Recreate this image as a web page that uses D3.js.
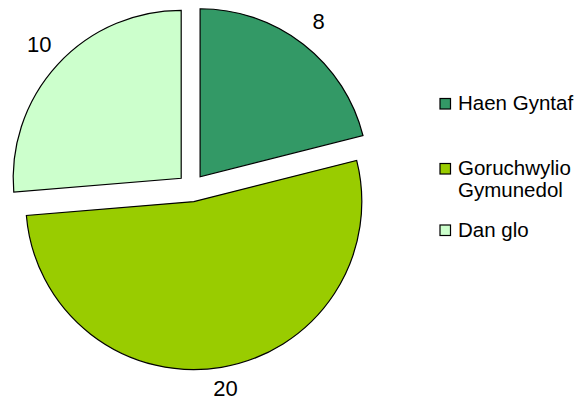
<!DOCTYPE html>
<html>
<head>
<meta charset="utf-8">
<script src="https://cdn.jsdelivr.net/npm/d3@7"></script>
<style>
  html, body { margin: 0; padding: 0; background: #fff; }
  svg { display: block; }
  text { font-family: "Liberation Sans", Arial, sans-serif; fill: #000; }
</style>
</head>
<body>
<svg id="chart" width="582" height="403"></svg>
<script>
const categories = ["Haen Gyntaf", "Goruchwylio Gymunedol", "Dan glo"];
const legendLines = [["Haen Gyntaf"], ["Goruchwylio", "Gymunedol"], ["Dan glo"]];
const values = [8, 20, 10];
const colors = ["#339966", "#99CC00", "#CCFFCC"];

const svg = d3.select("#chart");
const cx = 191.5, cy = 187.8, radius = 168, explode = 14, labelR = 207;

const pie = d3.pie().sort(null).value(d => d)(values);
const arc = d3.arc().innerRadius(0).outerRadius(radius);

const g = svg.append("g").attr("transform", `translate(${cx},${cy})`);

pie.forEach((p, i) => {
  const mid = (p.startAngle + p.endAngle) / 2;
  const dx = explode * Math.sin(mid), dy = -explode * Math.cos(mid);
  g.append("path")
    .attr("d", arc(p))
    .attr("transform", `translate(${dx},${dy})`)
    .attr("fill", colors[i])
    .attr("stroke", "#000")
    .attr("stroke-width", 1.2)
    .attr("stroke-linejoin", "miter");
  g.append("text")
    .attr("x", labelR * Math.sin(mid))
    .attr("y", -labelR * Math.cos(mid) - 3)
    .attr("text-anchor", "middle")
    .attr("dominant-baseline", "central")
    .attr("font-size", 22)
    .text(values[i]);
});

// Legend
const legendY = [103.5, 168.5, 230];
const lg = svg.append("g");
categories.forEach((c, i) => {
  lg.append("rect")
    .attr("x", 440).attr("y", legendY[i] - 5)
    .attr("width", 10.5).attr("height", 10.5)
    .attr("fill", colors[i]).attr("stroke", "#000").attr("stroke-width", 1.2);
  legendLines[i].forEach((ln, j) => {
    lg.append("text")
      .attr("x", 458)
      .attr("y", legendY[i] + 6.5 + j * 21.7)
      .attr("font-size", 20.5)
      .text(ln);
  });
});
</script>
</body>
</html>
